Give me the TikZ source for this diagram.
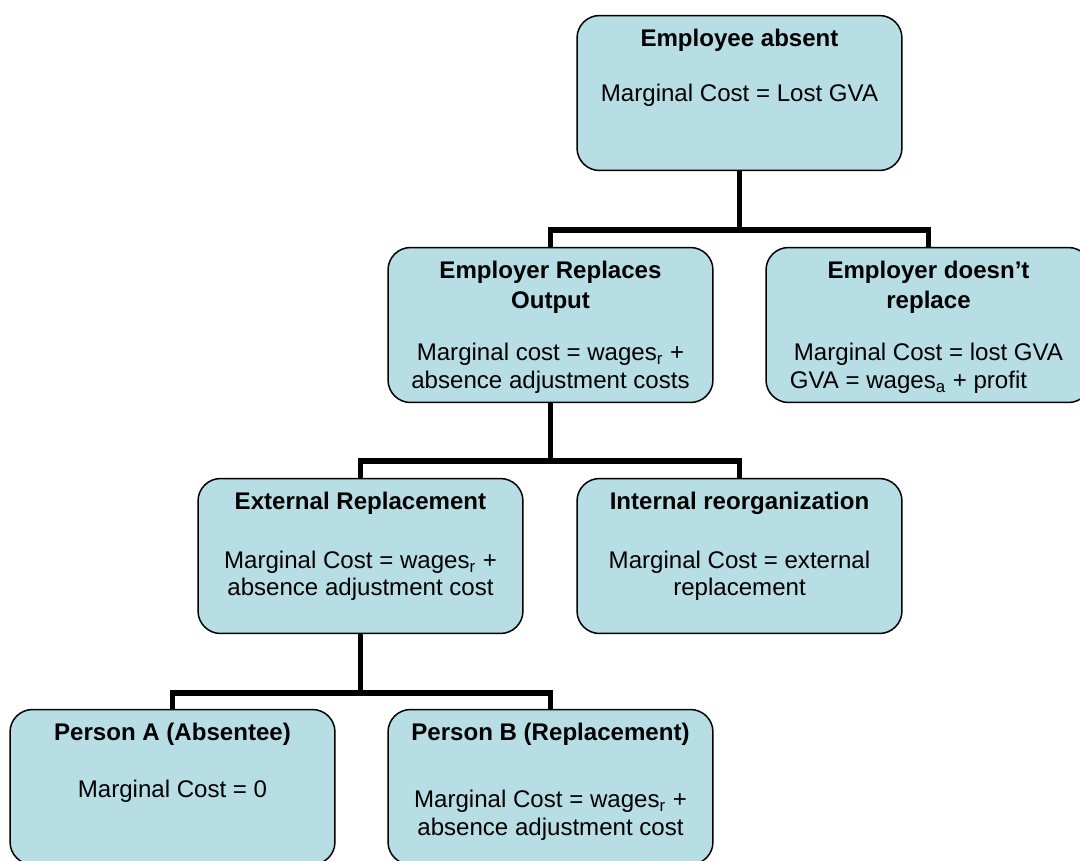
\documentclass[tikz,border=0pt]{standalone}
\usepackage{fontspec}
\setmainfont{Liberation Sans}
\definecolor{boxblue}{RGB}{183,222,228}
\newcommand{\boxtext}[3]{\begin{minipage}[t][2.56cm][t]{6.1cm}\centering\fontsize{13.7}{15.65}\selectfont\textbf{#1}\\[#2]#3\end{minipage}}
\begin{document}
\begin{tikzpicture}[x=0.02cm, y=-0.02cm]
\useasboundingbox (0,0) rectangle (1080,860);
\clip (0,0) rectangle (1080,860);
\begin{scope}[every node/.style={rectangle, draw=black, line width=0.85pt, fill=boxblue, rounded corners=0.45cm, inner xsep=0.2cm, inner ysep=0.27cm, minimum width=6.5cm, minimum height=3.08cm}]
    \node (absent) at (739.5,93) {\boxtext{Employee absent}{0.55cm}{Marginal Cost = Lost GVA}};
    \node (replaces) at (550.5,325) {\boxtext{Employer Replaces\\[0.05cm]Output}{0.5cm}{Marginal cost = wages\textsubscript{r} +\\absence adjustment costs}};
    \node (noreplace) at (928.5,325) {\boxtext{Employer doesn’t\\[0.05cm]replace}{0.5cm}{Marginal Cost = lost GVA\\GVA = wages\textsubscript{a} + profit\rule{0.8cm}{0pt}}};
    \node (external) at (360.5,556) {\boxtext{External Replacement}{0.63cm}{Marginal Cost = wages\textsubscript{r} +\\absence adjustment cost}};
    \node (internal) at (739.5,556) {\boxtext{Internal reorganization}{0.63cm}{Marginal Cost = external\\replacement}};
    \node (persona) at (172.5,787) {\boxtext{Person A (Absentee)}{0.59cm}{Marginal Cost = 0}};
    \node (personb) at (550.5,787) {\boxtext{Person B (Replacement)}{0.8cm}{Marginal Cost = wages\textsubscript{r} +\\absence adjustment cost}};
\end{scope}
\begin{scope}[line width=3.4pt]
    \draw (absent.south) -- ++(0,59) -| (replaces.north);
    \draw (absent.south) -- ++(0,59) -| (noreplace.north);
    \draw (replaces.south) -- ++(0,58) -| (external.north);
    \draw (replaces.south) -- ++(0,58) -| (internal.north);
    \draw (external.south) -- ++(0,59) -| (persona.north);
    \draw (external.south) -- ++(0,59) -| (personb.north);
\end{scope}
\end{tikzpicture}
\end{document}
